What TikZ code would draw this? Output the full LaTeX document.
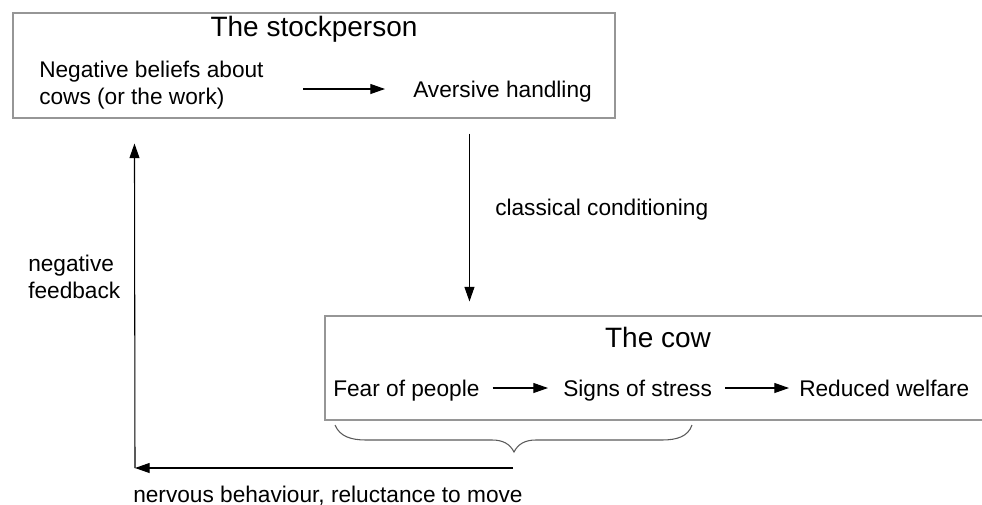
\documentclass[tikz,border=0pt]{standalone}
\usepackage{fontspec}
\setmainfont{Liberation Sans}
\usetikzlibrary{arrows.meta,calc}
\begin{document}
\begin{tikzpicture}[x=0.75pt,y=-0.75pt,
  boxstyle/.style={draw={rgb,255:red,150;green,150;blue,150},line width=0.8pt,inner sep=0pt,rectangle},
  titletext/.style={inner sep=0pt,font=\fontsize{21}{25}\selectfont},
  bodytext/.style={inner sep=0pt,font=\fontsize{17}{20.25}\selectfont},
  arr/.style={draw=black,line width=0.8pt,-{Triangle[length=11pt,width=7.5pt]}},
  bracestyle/.style={draw={rgb,255:red,90;green,90;blue,90},line width=0.8pt}]
\useasboundingbox (0,0) rectangle (982,504);
\clip (0,0) rectangle (982,504);
% boxes
\node[boxstyle,minimum width=451.5pt,minimum height=78.75pt] (box1) at (314,65.5) {};
\node[boxstyle,minimum width=506.25pt,minimum height=78pt] (box2) at (662.5,368) {};
% stockperson box contents
\node[titletext,anchor=base] (t1) at (314,36) {The stockperson};
\node[bodytext,anchor=base west,align=left] (neg) at (39,104) {Negative beliefs about\\cows (or the work)};
\node[bodytext,anchor=base west] (avers) at (413,97) {Aversive handling};
% cow box contents
\node[titletext,anchor=base] (t2) at (658,347) {The cow};
\node[bodytext,anchor=base west] (fear) at (333,396) {Fear of people};
\node[bodytext,anchor=base west] (signs) at (563,396) {Signs of stress};
\node[bodytext,anchor=base west] (reduced) at (799,396) {Reduced welfare};
% labels
\node[bodytext,anchor=base west] (cc) at (495,215) {classical conditioning};
\node[bodytext,anchor=base west,align=left] (nf) at (28,298) {negative\\feedback};
\node[bodytext,anchor=base west] (nb) at (133,502) {nervous behaviour, reluctance to move};
% arrows inside boxes
\draw[arr] ($(avers.base west)+(-110,-8)$) -- ($(avers.base west)+(-28,-8)$);
\draw[arr] ($(fear.base east)+(13,-8)$) -- ($(signs.base west)+(-15,-8)$);
\draw[arr] ($(signs.base east)+(13,-8)$) -- ($(reduced.base west)+(-10,-8)$);
% classical conditioning arrow
\draw[arr] ($(box1.south west)+(457,15)$) -- ($(box2.north west)+(145,-14)$);
% brace
\coordinate (bl) at (335,425);
\coordinate (bt) at (514,452);
\coordinate (br) at (692,425);
\draw[bracestyle] (bl) .. controls (340,437) and (352,440) .. (366,440)
  -- (492,440) .. controls (503,440) and (510,444) .. (bt)
  .. controls (518,444) and (525,440) .. (536,440)
  -- (662,440) .. controls (676,440) and (688,437) .. (br);
% feedback loop
\coordinate (corner) at (135,468);
\draw[arr] ($(bt)+(-1,16)$) -- (corner);
\draw[arr] (corner) -- ($(box1.south west)+(122,25)$);
\end{tikzpicture}
\end{document}
